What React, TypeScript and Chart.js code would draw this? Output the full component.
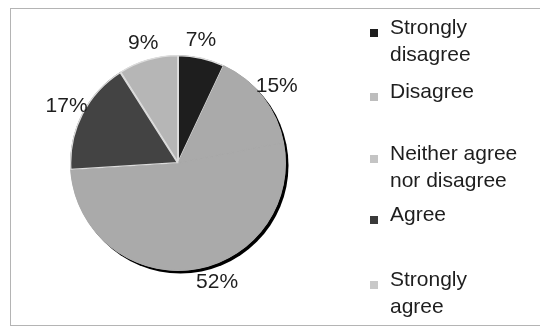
import React, { useEffect, useRef } from "react";
import { Chart, registerables } from "chart.js";

Chart.register(...registerables);

const categories = [
  "Strongly disagree",
  "Disagree",
  "Neither agree nor disagree",
  "Agree",
  "Strongly agree",
];
const percentValues = [7, 15, 52, 17, 9];
const sliceColors = ["#1e1e1e", "#aaaaaa", "#aaaaaa", "#434343", "#b6b6b6"];
const sliceBorders = ["#dcdcdc", "#aaaaaa", "#aaaaaa", "#dcdcdc", "#dcdcdc"];
const legendColors = ["#1e1e1e", "#bdbdbd", "#c4c4c4", "#3a3a3a", "#c8c8c8"];
// small angular nudge (degrees) applied to label placement, as in the original layout
const labelAngleNudge = [-2, 0, -11, 0, 0];

const FONT = '"Liberation Sans", Arial, sans-serif';
const FONT_SIZE = 21;

const framePlugin = {
  id: "frame",
  beforeDraw(chart: any) {
    const ctx = chart.ctx;
    ctx.save();
    ctx.fillStyle = "#ffffff";
    ctx.fillRect(0, 0, chart.width, chart.height);
    ctx.strokeStyle = "#b4b4b4";
    ctx.lineWidth = 1;
    ctx.strokeRect(10.5, 8.5, chart.width, chart.height - 11);
    ctx.restore();
  },
};

const shadowPlugin = {
  id: "pieShadow",
  beforeDatasetsDraw(chart: any) {
    const arc = chart.getDatasetMeta(0).data[0];
    if (!arc) return;
    const ctx = chart.ctx;
    ctx.save();
    ctx.fillStyle = "#000000";
    ctx.beginPath();
    ctx.arc(arc.x + 2.5, arc.y + 2.5, arc.outerRadius, 0, Math.PI * 2);
    ctx.fill();
    ctx.restore();
  },
};

const pctLabelPlugin = {
  id: "pctLabels",
  afterDatasetsDraw(chart: any) {
    const meta = chart.getDatasetMeta(0);
    const data = chart.data.datasets[0].data as number[];
    const ctx = chart.ctx;
    ctx.save();
    ctx.font = `${FONT_SIZE}px ${FONT}`;
    ctx.fillStyle = "#1e1e1e";
    ctx.textAlign = "center";
    ctx.textBaseline = "middle";
    meta.data.forEach((a: any, i: number) => {
      const mid = (a.startAngle + a.endAngle) / 2 + (labelAngleNudge[i] * Math.PI) / 180;
      const d = a.outerRadius + 17;
      const x = a.x + Math.cos(mid) * d;
      const y = a.y + Math.sin(mid) * d;
      ctx.fillText(`${data[i]}%`, x, y);
    });
    ctx.restore();
  },
};

const legendPlugin = {
  id: "sideLegend",
  afterDraw(chart: any) {
    const ctx = chart.ctx;
    const opts = chart.options.plugins.sideLegend;
    const labels = chart.data.labels as string[];
    ctx.save();
    ctx.font = `${FONT_SIZE}px ${FONT}`;
    ctx.textBaseline = "middle";
    ctx.textAlign = "left";
    labels.forEach((label, i) => {
      const words = label.split(" ");
      const lines: string[] = [];
      let cur = "";
      words.forEach((w) => {
        const test = cur ? cur + " " + w : w;
        if (cur && ctx.measureText(test).width > opts.maxWidth) {
          lines.push(cur);
          cur = w;
        } else cur = test;
      });
      if (cur) lines.push(cur);
      const y0 = opts.itemTops[i];
      ctx.fillStyle = opts.colors[i];
      ctx.fillRect(opts.x, y0 + 1, 8, 8);
      ctx.fillStyle = "#1e1e1e";
      lines.forEach((ln, j) => {
        ctx.fillText(ln, opts.x + 20, y0 + j * opts.lineHeight);
      });
    });
    ctx.restore();
  },
};

export default function App() {
  const ref = useRef<HTMLCanvasElement>(null);
  useEffect(() => {
    if (!ref.current) return;
    const chart = new Chart(ref.current, {
      type: "pie",
      data: {
        labels: categories,
        datasets: [
          {
            data: percentValues,
            backgroundColor: sliceColors,
            borderColor: sliceBorders,
            borderWidth: 1,
            borderAlign: "inner",
          },
        ],
      },
      options: {
        animation: false,
        responsive: false,
        maintainAspectRatio: false,
        layout: { padding: { left: 70, right: 254, top: 55, bottom: 57 } },
        plugins: {
          legend: { display: false },
          tooltip: { enabled: false },
          sideLegend: {
            x: 370,
            maxWidth: 131,
            lineHeight: 27,
            itemTops: [28, 92, 154, 215, 280],
            colors: legendColors,
          },
        } as any,
      },
      plugins: [framePlugin, shadowPlugin, pctLabelPlugin, legendPlugin],
    });
    return () => chart.destroy();
  }, []);
  return (
    <div style={{ position: "fixed", left: 0, top: 0, width: 540, height: 328 }}>
      <canvas ref={ref} width={540} height={328} style={{ width: 540, height: 328 }} />
    </div>
  );
}
